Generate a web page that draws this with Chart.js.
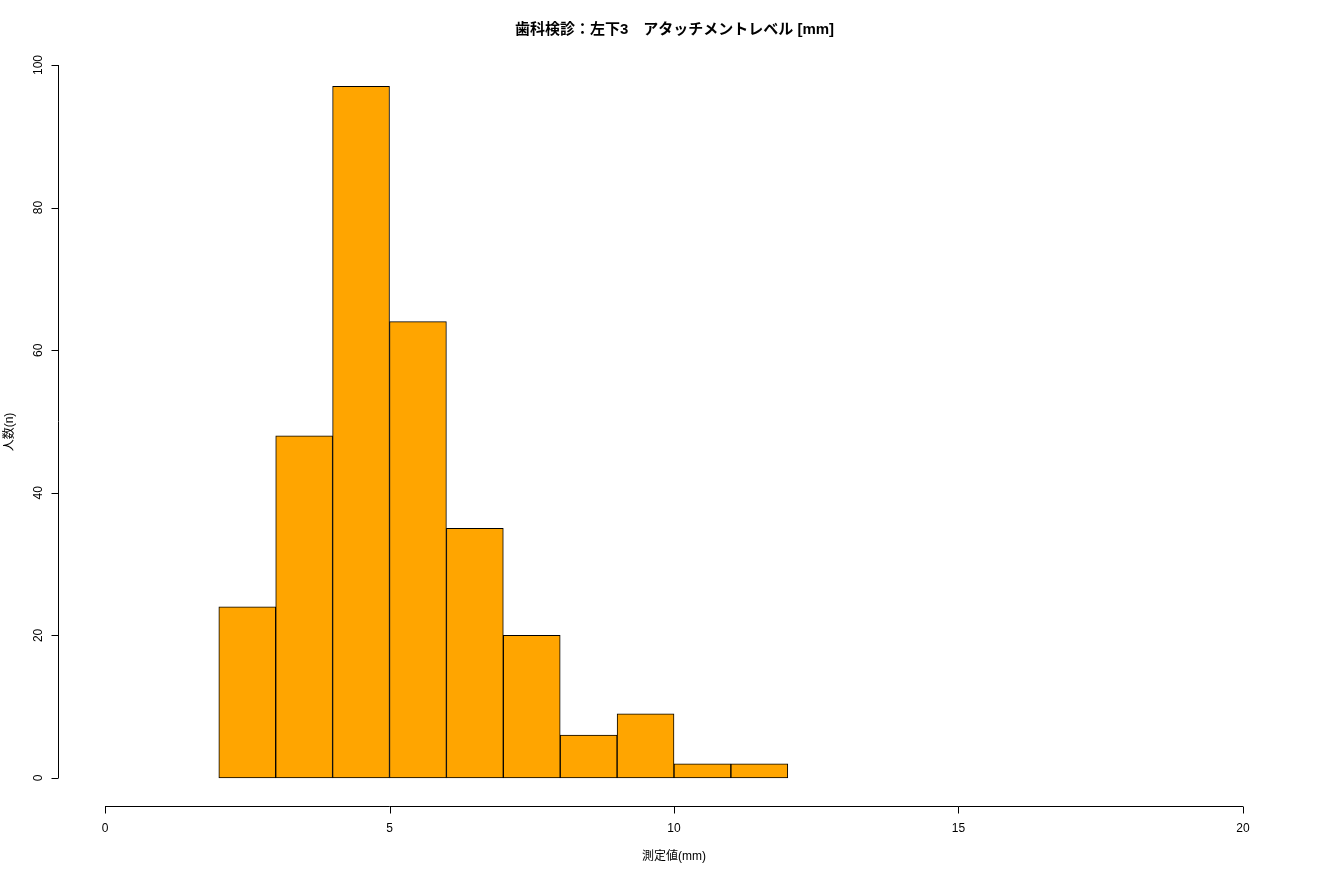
<!DOCTYPE html>
<html><head><meta charset="utf-8">
<script src="https://cdn.jsdelivr.net/npm/chart.js@4.4.0/dist/chart.umd.min.js"></script>
<style>html,body{margin:0;padding:0;background:#fff}#wrap{width:1320px;height:880px}</style>
</head><body><div id="wrap"><canvas id="c" width="1320" height="880"></canvas></div>
<script>
const TITLE = "歯科検診：左下3　アタッチメントレベル [mm]";
const X_LABEL = "測定値(mm)";
const Y_LABEL = "人数(n)";
const binStarts = [2, 3, 4, 5, 6, 7, 8, 9, 10, 11];
const counts = [24, 48, 97, 64, 35, 20, 6, 9, 2, 2];
const xTicks = [0, 5, 10, 15, 20];
const yTicks = [0, 20, 40, 60, 80, 100];
const FONT = "'Liberation Sans', Arial, 'Noto Sans CJK JP', sans-serif";

const rAxes = {
  id: "rAxes",
  afterDraw(chart) {
    const { ctx, scales: { x, y }, chartArea: a } = chart;
    ctx.save();
    ctx.strokeStyle = "#000"; ctx.fillStyle = "#000"; ctx.lineWidth = 1;
    // x axis
    const yb = Math.round(a.bottom) - 0.5;
    ctx.beginPath();
    ctx.moveTo(x.getPixelForValue(xTicks[0]), yb); ctx.lineTo(x.getPixelForValue(xTicks[xTicks.length - 1]), yb);
    xTicks.forEach(t => { const px = Math.round(x.getPixelForValue(t)) + 0.5; ctx.moveTo(px, yb); ctx.lineTo(px, yb + 7) });
    ctx.stroke();
    ctx.font = `12px ${FONT}`; ctx.textAlign = "center"; ctx.textBaseline = "middle";
    xTicks.forEach(t => ctx.fillText(String(t), x.getPixelForValue(t), yb + 22));
    // y axis
    const xl = Math.round(a.left) - 1.5;
    ctx.beginPath();
    ctx.moveTo(xl, y.getPixelForValue(yTicks[0])); ctx.lineTo(xl, y.getPixelForValue(yTicks[yTicks.length - 1]));
    yTicks.forEach(t => { const py = Math.round(y.getPixelForValue(t)) + 0.5; ctx.moveTo(xl, py); ctx.lineTo(xl - 7, py) });
    ctx.stroke();
    yTicks.forEach(t => {
      ctx.save(); ctx.translate(xl - 20, y.getPixelForValue(t)); ctx.rotate(-Math.PI / 2);
      ctx.fillText(String(t), 0, 0); ctx.restore();
    });
    // labels
    ctx.fillText(X_LABEL, 674, 857);
    ctx.save(); ctx.translate(10, 432); ctx.rotate(-Math.PI / 2);
    ctx.fillText(Y_LABEL, 0, 0); ctx.restore();
    ctx.font = `bold 15px ${FONT}`;
    ctx.fillText(TITLE, 674.5, 30);
    ctx.restore();
  }
};

new Chart(document.getElementById("c"), {
  type: "bar",
  data: {
    datasets: [{
      data: binStarts.map((b, i) => ({ x: b + 0.5, y: counts[i] })),
      backgroundColor: "#FFA500", borderColor: "#000", borderWidth: 1,
      barPercentage: 1, categoryPercentage: 1, borderSkipped: false
    }]
  },
  options: {
    responsive: false, animation: false, devicePixelRatio: 1,
    layout: { padding: { left: 59.5, right: 31.5, top: 36.5, bottom: 73.5 } },
    plugins: { legend: { display: false }, tooltip: { enabled: false }, title: { display: false } },
    scales: {
      x: {
        type: "linear", min: -0.8, max: 20.8, offset: false, grid: { offset: false }, display: false,
        afterBuildTicks: s => { s.ticks = binStarts.map(b => ({ value: b + 0.5 })) }
      },
      y: { min: -4, max: 104, display: false }
    }
  },
  plugins: [rAxes]
});
</script></body></html>
